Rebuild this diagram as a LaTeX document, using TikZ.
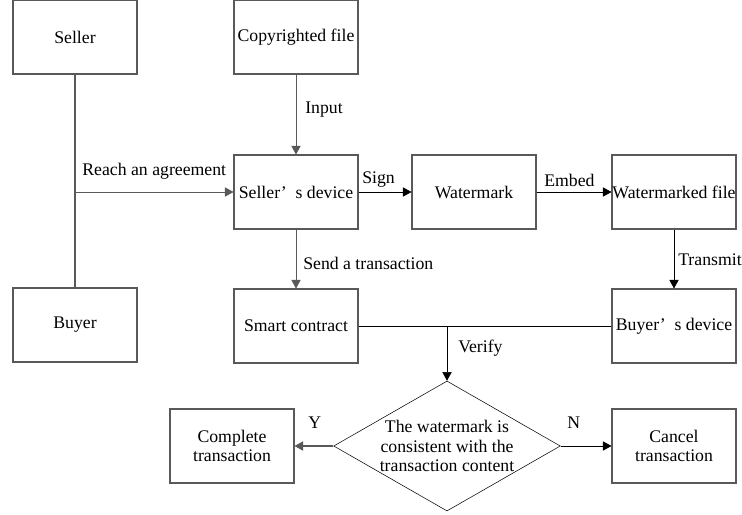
\documentclass[tikz,border=0pt]{standalone}
\usepackage{fontspec}
\setmainfont{Liberation Serif}
\usetikzlibrary{arrows.meta,shapes.geometric}

\begin{document}
\begin{tikzpicture}[x=0.75pt, y=-0.75pt,
    every node/.style={font=\fontsize{13.3}{14.5}\selectfont},
    box/.style={draw=black!65, line width=0.8pt, minimum width=93pt, minimum height=55.5pt, inner sep=0pt, align=center},
    test/.style={draw, thin, diamond, shape aspect=1.74, minimum width=170pt, minimum height=97.5pt, inner xsep=-4pt, inner ysep=0pt, align=center},
    link/.style={draw=black!65, line width=0.8pt},
    flow/.style={-{Triangle[length=6.5pt,width=7pt]}, thin},
    lbl/.style={anchor=west, inner sep=0pt}]
    \useasboundingbox (0,0) rectangle (742,514);

    \node[box] (seller) at (75,37)   {Seller};
    \node[box] (buyer)  at (75,325)  {Buyer};
    \node[box] (file)   at (296,37)  {Copyrighted file};
    \node[box] (sdev)   at (296,192) {Seller’\enspace s device};
    \node[box] (wm)     at (474,192) {Watermark};
    \node[box] (wmfile) at (674,192) {Watermarked file};
    \node[box] (sc)     at (296,326) {Smart contract};
    \node[box] (bdev)   at (674,326) {Buyer’\enspace s device};
    \node[test] (check) at (447,446) {The watermark is\\consistent with the\\transaction content};
    \node[box] (done)   at (232,446) {Complete\\transaction};
    \node[box] (cancel) at (674,446) {Cancel\\transaction};

    \coordinate (deal) at (seller |- sdev);
    \coordinate (join) at (check |- sc);

    \path[link] (seller) -- (buyer);
    \draw[link, flow, draw=black!65] (deal) -- (sdev) node[midway, above=6pt] {Reach an agreement};
    \draw[link, flow, draw=black!65] (file) -- (sdev);
    \draw[link, flow, draw=black!65] (sdev) -- (sc);
    \draw[flow] (sdev) -- (wm);
    \draw[flow] (wm) -- (wmfile);
    \draw[flow] (wmfile) -- (bdev);
    \draw[thin] (sc) -- (bdev);
    \draw[flow] (join) -- (check);
    \draw[flow, draw=black!65, line width=0.8pt] (check) -- (done);
    \draw[flow] (check) -- (cancel);

    \node[lbl] (l-input)    at (305,110) {Input};
    \node[lbl] (l-sign)     at (362,180) {Sign};
    \node[lbl] (l-embed)    at (544,180) {Embed};
    \node[lbl] (l-send)     at (303,263) {Send a transaction};
    \node[lbl] (l-transmit) at (678,260) {Transmit};
    \node[lbl] (l-verify)   at (458,348) {Verify};
    \node[lbl] (l-y)        at (308,423) {Y};
    \node[lbl] (l-n)        at (567,423) {N};
\end{tikzpicture}
\end{document}
